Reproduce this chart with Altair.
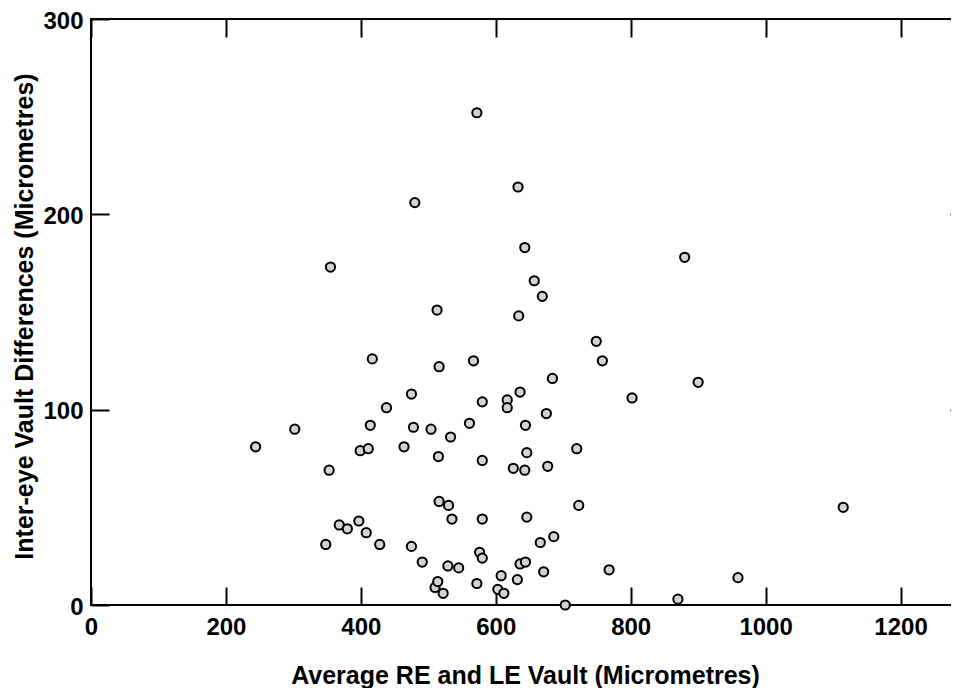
import altair as alt
import pandas as pd

avg_vault = [244, 302, 355, 353, 348, 368, 380, 397, 408, 399, 411, 414, 417, 428, 438,
             464, 475, 475, 478, 480, 491, 504, 510, 513, 514, 515, 516, 516, 522, 529,
             530, 533, 535, 545, 561, 567, 572, 572, 576, 580, 580, 580, 580, 603, 608,
             612, 617, 617, 626, 632, 633, 634, 636, 636, 643, 643, 644, 644, 646, 646,
             657, 666, 669, 671, 675, 677, 684, 686, 703, 720, 723, 749, 758, 768, 802,
             870, 880, 900, 959, 1115]
inter_eye_diff = [81, 90, 173, 69, 31, 41, 39, 43, 37, 79, 80, 92, 126, 31, 101,
                  81, 108, 30, 91, 206, 22, 90, 9, 151, 12, 76, 122, 53, 6, 20,
                  51, 86, 44, 19, 93, 125, 252, 11, 27, 24, 44, 74, 104, 8, 15,
                  6, 105, 101, 70, 13, 214, 148, 21, 109, 183, 69, 92, 22, 78, 45,
                  166, 32, 158, 17, 98, 71, 116, 35, 0, 80, 51, 135, 125, 18, 106,
                  3, 178, 114, 14, 50]

x_ticks = [0, 200, 400, 600, 800, 1000, 1200]
y_ticks = [0, 100, 200, 300]

df = pd.DataFrame({"avg": avg_vault, "diff": inter_eye_diff})

FONT = "Liberation Sans"
xscale = alt.Scale(domain=[0, 1300], nice=False, zero=False)
yscale = alt.Scale(domain=[0, 300], nice=False, zero=False)

common_axis = dict(domain=False, grid=False, ticks=True, tickSize=18, tickWidth=2,
                   tickColor="black", offset=-18, labelFont=FONT, labelFontWeight="bold",
                   labelFontSize=24, labelColor="black", titleFont=FONT,
                   titleFontWeight="bold", titleFontSize=25, titleColor="black",
                   format="d", labelFlush=False, labelOverlap=False)

points = alt.Chart(df).mark_circle(
    size=85, fill="#d3d3d3", stroke="black", strokeWidth=2, opacity=1
).encode(
    x=alt.X("avg:Q", scale=xscale,
            axis=alt.Axis(orient="bottom", values=x_ticks, labelPadding=10,
                          title="Average RE and LE Vault (Micrometres)",
                          titleBaseline="alphabetic", titleY=96, titleX=434,
                          titleAlign="center", **common_axis)),
    y=alt.Y("diff:Q", scale=yscale,
            axis=alt.Axis(orient="left", values=y_ticks, labelPadding=8, labelOffset=2,
                          title="Inter-eye Vault Differences (Micrometres)",
                          titleAngle=270, titleBaseline="alphabetic",
                          titleX=-77, titleY=297, titleAlign="center", **common_axis)),
)

mirror = alt.Chart(df).mark_circle(opacity=0).encode(
    x=alt.X("avg:Q", scale=xscale,
            axis=alt.Axis(orient="top", values=x_ticks, labels=False, title=None,
                          **common_axis)),
    y=alt.Y("diff:Q", scale=yscale,
            axis=alt.Axis(orient="right", values=y_ticks, labels=False, title=None,
                          **common_axis)),
)

chart = alt.layer(mirror, points).resolve_axis(x="independent", y="independent").properties(
    width=877, height=586,
    autosize=alt.AutoSizeParams(type="none"),
    padding={"left": 83, "top": 11, "right": -17, "bottom": 83},
    background="white",
).configure_view(stroke="black", strokeWidth=2)

chart.save("out.html", embed_options={"renderer": "svg", "actions": False})
